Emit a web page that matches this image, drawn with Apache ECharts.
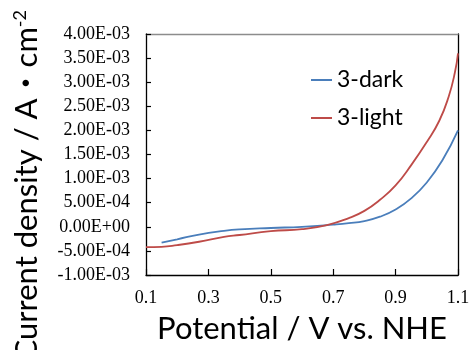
<!DOCTYPE html>
<html>
<head>
<meta charset="utf-8">
<script src="https://cdn.jsdelivr.net/npm/echarts@6/dist/echarts.min.js"></script>
<style>
  html, body { margin: 0; padding: 0; background: #fff; }
  #chart { width: 470px; height: 350px; }
</style>
</head>
<body>
<div id="chart"></div>
<script>
// potential (V vs. NHE) and current density (A/cm2)
var darkV = [0.15, 0.2, 0.27, 0.35, 0.4, 0.5, 0.6, 0.7, 0.75, 0.8, 0.85, 0.9, 0.95, 1.0, 1.05, 1.1];
var darkJ = [-3.3e-4, -2.6e-4, -1.6e-4, -0.85e-4, -0.55e-4, -0.25e-4, 0, 0.45e-4, 0.75e-4, 1.2e-4, 2.1e-4, 3.6e-4, 5.9e-4, 0.92e-3, 1.38e-3, 2.0e-3];

var lightV = [0.1, 0.15, 0.2, 0.27, 0.35, 0.4, 0.5, 0.6, 0.68, 0.75, 0.8, 0.85, 0.9, 0.95, 1.0, 1.04, 1.07, 1.09, 1.1];
var lightJ = [-4.2e-4, -4.15e-4, -3.8e-4, -3.1e-4, -2.1e-4, -1.7e-4, -0.9e-4, -0.5e-4, 0.35e-4, 1.8e-4, 3.3e-4, 5.6e-4, 8.6e-4, 1.28e-3, 1.76e-3, 2.2e-3, 2.7e-3, 3.2e-3, 3.6e-3];

var yTickLabels = ["-1.00E-03", "-5.00E-04", "0.00E+00", "5.00E-04", "1.00E-03", "1.50E-03",
  "2.00E-03", "2.50E-03", "3.00E-03", "3.50E-03", "4.00E-03"];
var xTickLabels = ["0.1", "0.3", "0.5", "0.7", "0.9", "1.1"];

var seriesNames = ["3-dark", "3-light"];

function pairs(xs, ys) {
  return xs.map(function (x, i) { return [x, ys[i]]; });
}

var chart = echarts.init(document.getElementById("chart"));

var yMin = -1e-3, yMax = 4e-3, yStep = 5e-4;
var xMin = 0.1, xMax = 1.1, xStep = 0.2;

var option = {
  animation: false,
  grid: {
    left: 146,
    right: 12,
    top: 34,
    bottom: 75,
    containLabel: false,
    outerBoundsMode: "none"
  },
  legend: {
    orient: "vertical",
    left: 306,
    top: 63,
    icon: "rect",
    itemWidth: 21,
    itemHeight: 2,
    itemGap: 14,
    textStyle: {
      fontFamily: "Lato",
      fontSize: 23,
      lineHeight: 24,
      color: "#000"
    },
    data: seriesNames
  },
  xAxis: [
    {
      type: "value",
      min: xMin,
      max: xMax,
      interval: xStep,
      name: "Potential / V vs. NHE",
      nameLocation: "middle",
      nameGap: 38,
      nameTextStyle: {
        fontFamily: "Lato",
        fontSize: 31,
        color: "#000"
      },
      axisLine: { show: true, onZero: false, lineStyle: { color: "#000", width: 1.3 } },
      axisTick: { show: true, inside: true, length: 6, lineStyle: { color: "#000", width: 1.2 } },
      axisLabel: {
        margin: 14,
        fontFamily: "Liberation Serif",
        fontSize: 18,
        color: "#000",
        showMinLabel: true,
        showMaxLabel: true,
        formatter: function (v) {
          var i = Math.round((v - xMin) / xStep);
          return xTickLabels[i] || "";
        }
      },
      splitLine: { show: false }
    },
    {
      type: "value",
      position: "top",
      min: xMin,
      max: xMax,
      axisLine: { show: true, onZero: false, lineStyle: { color: "#8c8c8c", width: 1.3 } },
      axisTick: { show: false },
      axisLabel: { show: false },
      splitLine: { show: false }
    }
  ],
  yAxis: [
    {
      type: "value",
      min: yMin,
      max: yMax,
      interval: yStep,
      axisLine: { show: true, onZero: false, lineStyle: { color: "#000", width: 1.3 } },
      axisTick: { show: true, inside: true, length: 5, lineStyle: { color: "#000", width: 1.2 } },
      axisLabel: {
        margin: 16,
        fontFamily: "Liberation Serif",
        fontSize: 18,
        color: "#000",
        showMinLabel: true,
        showMaxLabel: true,
        formatter: function (v) {
          var i = Math.round((v - yMin) / yStep);
          return yTickLabels[i] || "";
        }
      },
      splitLine: { show: false }
    },
    {
      type: "value",
      position: "right",
      min: yMin,
      max: yMax,
      axisLine: { show: true, onZero: false, lineStyle: { color: "#000", width: 1.3 } },
      axisTick: { show: false },
      axisLabel: { show: false },
      splitLine: { show: false }
    }
  ],
  graphic: [
    {
      type: "text",
      x: 27,
      y: 10,
      rotation: Math.PI / 2,
      style: {
        text: "{a|Current density / A\u30FBcm}{s|-2}",
        align: "right",
        verticalAlign: "middle",
        fill: "#000",
        rich: {
          a: { fontFamily: "Lato, 'Noto Sans CJK JP'", fontSize: 31, verticalAlign: "bottom" },
          s: { fontFamily: "Lato", fontSize: 18, verticalAlign: "top" }
        }
      }
    }
  ],
  series: [
    {
      name: seriesNames[0],
      type: "line",
      data: pairs(darkV, darkJ),
      smooth: 0.5,
      showSymbol: false,
      lineStyle: { color: "#4a7ebb", width: 1.8 },
      itemStyle: { color: "#4a7ebb" }
    },
    {
      name: seriesNames[1],
      type: "line",
      data: pairs(lightV, lightJ),
      smooth: 0.5,
      showSymbol: false,
      lineStyle: { color: "#be4b48", width: 1.8 },
      itemStyle: { color: "#be4b48" }
    }
  ]
};

chart.setOption(option);
</script>
</body>
</html>
